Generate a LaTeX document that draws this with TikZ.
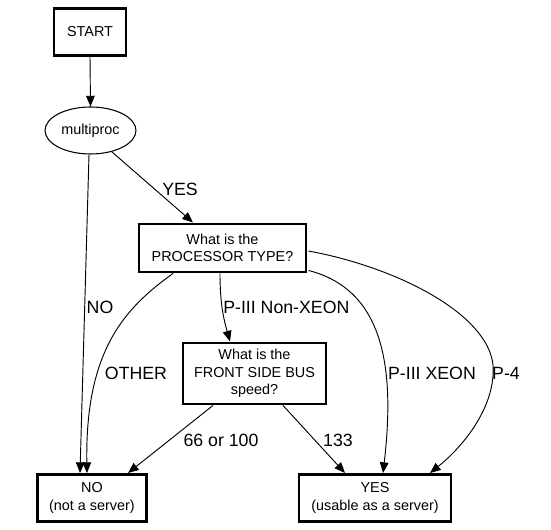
\documentclass[tikz,border=0pt]{standalone}
\usepackage{fontspec}
\setmainfont{Liberation Sans}
\usepackage{tikz}
\usetikzlibrary{arrows.meta,calc,shapes.geometric}
\tikzset{
  cpubox/.style={draw=black, line width=2.2pt, fill=white, align=center, inner sep=2pt, font=\fontsize{10.8}{13}\selectfont},
  cpuoval/.style={ellipse, draw=black, line width=0.8pt, fill=white, inner sep=0pt, font=\fontsize{10.8}{13}\selectfont},
  cpulabel/.style={font=\fontsize{13.3}{16}\selectfont, inner sep=0pt},
  cpuarrow/.style={-{Triangle[length=8pt,width=6.5pt]}, line width=0.7pt, draw=black}
}

\begin{document}
\begin{tikzpicture}[x=0.75pt,y=0.75pt]
  \useasboundingbox (0,0) rectangle (551,530);

  % start and first test
  \node[cpubox, minimum width=54pt, minimum height=35.25pt] (start) at (90,498) {START};
  \node[cpuoval, minimum width=68.25pt, minimum height=35.25pt] (multiproc) at (90.5,399.5) {multiproc};

  % questions
  \node[cpubox, minimum width=125.25pt, minimum height=36pt] (ptype) at (222.5,282)
  {What is the\\PROCESSOR TYPE?};
  \node[cpubox, minimum width=107.25pt, minimum height=45.75pt] (fsb) at (254.5,156.5)
  {What is the\\FRONT SIDE BUS\\speed?};

  % answers
  \node[cpubox, minimum width=81.75pt, minimum height=35.25pt] (nosrv) at (92,32)
  {NO\\(not a server)};
  \node[cpubox, minimum width=114pt, minimum height=35.25pt] (yessrv) at (375,32)
  {YES\\(usable as a server)};

  % edges
  \coordinate (pfourbend) at (493,165);
  \draw[cpuarrow] (start.south) -- (multiproc.north);
  \draw[cpuarrow] ($(multiproc.south)+(-1.5,0)$) -- ($(nosrv.north)+(-12,0)$);
  \draw[cpuarrow] (multiproc.-45) -- ($(ptype.north)+(-29.5,0)$);
  \draw[cpuarrow] ($(ptype.south)+(-2.5,0)$) .. controls (220,225) and (224,210) .. ($(fsb.north)+(-24.5,0)$);
  \draw[cpuarrow] ($(ptype.south)+(-49.5,0)$) .. controls (125,222) and (85,180) .. ($(nosrv.north)+(-5,0)$);
  \draw[cpuarrow] ($(ptype.south east)+(1,3)$) .. controls (385,240) and (395,160) .. ($(yessrv.north)+(8,0)$);
  \draw[cpuarrow] ($(ptype.east)+(1,-3)$) .. controls (400,262) and (488,215) .. (pfourbend)
    .. controls (496,125) and (465,85) .. ($(yessrv.north)+(55,0)$);
  \draw[cpuarrow] ($(fsb.south)+(-41.5,0)$) -- ($(nosrv.north)+(36,0)$);
  \draw[cpuarrow] ($(fsb.south)+(28.5,0)$) -- ($(yessrv.north)+(-30,0)$);

  % edge labels
  \node[cpulabel] (lyes) at (180,341) {YES};
  \node[cpulabel] (lno) at (100,223) {NO};
  \node[cpulabel, anchor=west] (lnonxeon) at (223,223) {P-III Non-XEON};
  \node[cpulabel] (lother) at (136,157) {OTHER};
  \node[cpulabel] (lxeon) at (432,157) {P-III XEON};
  \node[cpulabel] (lpfour) at (506,157) {P-4};
  \node[cpulabel] (lslow) at (221,90) {66 or 100};
  \node[cpulabel] (lfast) at (338,90) {133};

\end{tikzpicture}
\end{document}
